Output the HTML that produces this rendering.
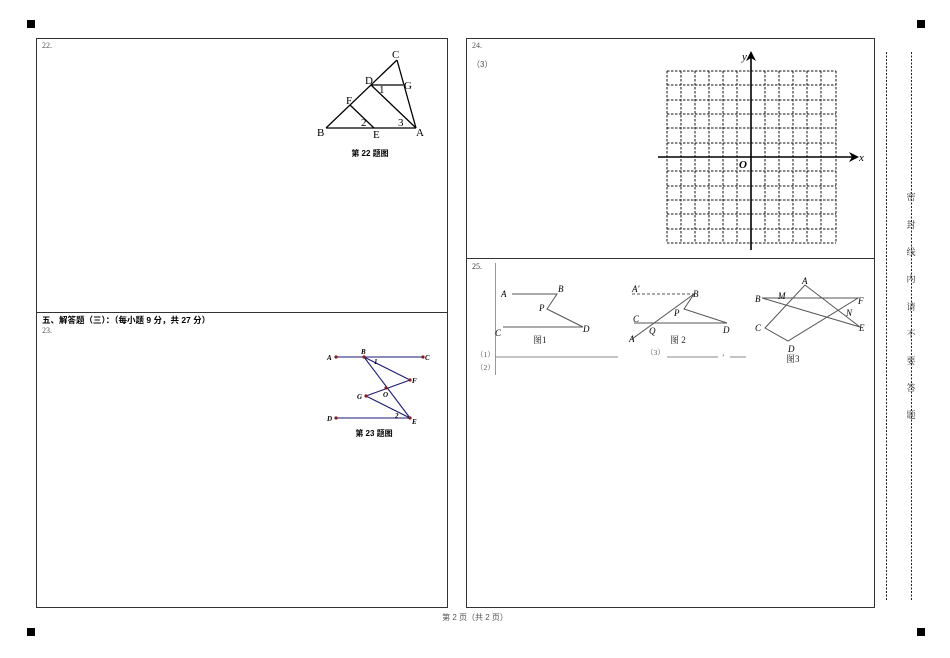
<!DOCTYPE html>
<html><head><meta charset="utf-8"><style>
html,body{margin:0;padding:0;background:#fff}
svg{display:block}
text{font-family:"Liberation Serif","Noto Serif CJK SC",serif}
.cj{font-family:"Liberation Sans","Noto Sans CJK SC",sans-serif}
</style></head><body>
<svg width="950" height="658" viewBox="0 0 950 658" xmlns="http://www.w3.org/2000/svg">
<rect x="27" y="20" width="8" height="8"/><rect x="917" y="20" width="8" height="8"/>
<rect x="27" y="628" width="8" height="8"/><rect x="917" y="628" width="8" height="8"/>
<g fill="none" stroke="#333" stroke-width="1">
<rect x="36.5" y="38.5" width="411" height="569"/>
<line x1="36" y1="312.5" x2="447" y2="312.5"/>
<rect x="466.5" y="38.5" width="408" height="569"/>
<line x1="466" y1="258.5" x2="874" y2="258.5"/>
</g>
<g stroke="#222" stroke-width="1" stroke-dasharray="2,1.5">
<line x1="886.5" y1="52" x2="886.5" y2="600"/><line x1="911.5" y1="52" x2="911.5" y2="600"/>
</g>
<g class="cj" font-size="9" fill="#333" text-anchor="middle">
<text x="911" y="200">密</text><text x="911" y="228">封</text><text x="911" y="255">线</text>
<text x="911" y="282">内</text><text x="911" y="310">请</text><text x="911" y="337">不</text>
<text x="911" y="364">要</text><text x="911" y="391">答</text><text x="911" y="418">题</text>
</g>
<text x="42" y="48" font-size="8" fill="#555">22.</text>
<text x="472" y="48" font-size="8" fill="#555">24.</text>
<text x="472" y="67" font-size="8" fill="#555" class="cj">（3）</text>
<text x="472" y="269" font-size="8" fill="#333">25.</text>
<text x="42" y="323" font-size="8.5" font-weight="bold" class="cj">五、解答题（三）：（每小题 9 分，共 27 分）</text>
<text x="42" y="333" font-size="8" fill="#555">23.</text>
<text x="475" y="620" font-size="8" fill="#555" text-anchor="middle" class="cj">第 2 页（共 2 页）</text>
<!-- fig 22 -->
<g stroke="#000" stroke-width="1.3" fill="none">
<line x1="326" y1="128" x2="416" y2="128"/><line x1="326" y1="128" x2="397" y2="60"/>
<line x1="397" y1="60" x2="416" y2="128"/><line x1="371" y1="85" x2="403" y2="85"/>
<line x1="371" y1="85" x2="416" y2="128"/><line x1="350" y1="105" x2="374" y2="128"/>
</g>
<g font-size="11" font-family="Liberation Serif">
<text x="392" y="58">C</text><text x="365" y="84">D</text><text x="404" y="89">G</text>
<text x="379" y="93">1</text><text x="346" y="104">F</text><text x="317" y="136">B</text>
<text x="373" y="138">E</text><text x="416" y="136">A</text><text x="361" y="126">2</text><text x="398" y="126">3</text>
</g>
<text x="370" y="156" font-size="8" font-weight="bold" text-anchor="middle" class="cj">第 22 题图</text>
<!-- fig 23 -->
<g stroke="#1a1a7a" stroke-width="1.1" fill="none">
<line x1="336" y1="357" x2="423" y2="357"/><line x1="364" y1="357" x2="410" y2="380"/>
<line x1="364" y1="357" x2="410" y2="418"/><line x1="366" y1="396" x2="410" y2="380"/>
<line x1="366" y1="396" x2="410" y2="418"/><line x1="336" y1="418" x2="410" y2="418"/>
</g>
<g fill="#8b1a1a"><circle cx="336" cy="357" r="1.6"/><circle cx="423" cy="357" r="1.6"/><circle cx="364" cy="357" r="1.6"/><circle cx="410" cy="380" r="1.6"/><circle cx="366" cy="396" r="1.6"/><circle cx="386" cy="388" r="1.6"/><circle cx="336" cy="418" r="1.6"/><circle cx="410" cy="418" r="1.6"/></g>
<g font-size="7" font-style="italic" font-weight="bold">
<text x="327" y="360">A</text><text x="425" y="360">C</text><text x="361" y="354">B</text><text x="412" y="383">F</text>
<text x="357" y="399">G</text><text x="383" y="397">O</text><text x="327" y="421">D</text><text x="412" y="424">E</text>
<text x="374" y="364">1</text><text x="395" y="418">2</text>
</g>
<text x="374" y="436" font-size="8" font-weight="bold" text-anchor="middle" class="cj">第 23 题图</text>
<!-- grid 24 -->
<g stroke="#111" stroke-width="1" stroke-dasharray="2.5,1.5" fill="none">
<path d="M667 71V243M681 71V243M695 71V243M709 71V243M723 71V243M737 71V243M765 71V243M779 71V243M793 71V243M807 71V243M821 71V243M836 71V243"/>
<path d="M667 71H836M667 85H836M667 100H836M667 114H836M667 128H836M667 143H836M667 171H836M667 186H836M667 200H836M667 214H836M667 229H836M667 243H836"/>
</g>
<g stroke="#000" stroke-width="1.6"><line x1="658" y1="157" x2="855" y2="157"/><line x1="751" y1="250" x2="751" y2="55"/></g>
<path d="M859 157L849 152L852 157L849 162Z"/><path d="M751 51L746 61L751 58L756 61Z"/>
<text x="859" y="161" font-size="11" font-style="italic">x</text>
<text x="742" y="60" font-size="11" font-style="italic">y</text>
<text x="739" y="168" font-size="11" font-style="italic" font-weight="bold">O</text>
<!-- fig 25 -->
<line x1="495.5" y1="263" x2="495.5" y2="375" stroke="#999"/>
<g stroke="#555" stroke-width="1" fill="none">
<path d="M512 294H557L547 309L583 327H503"/>
<path d="M632 294H694" stroke-dasharray="3,2"/>
<path d="M632 339L694 294L684 309L727 323H634"/>
<path d="M765 328L805 285L860 327L762 298H858L788 341Z"/>
</g>
<g font-size="9" font-style="italic">
<text x="501" y="297">A</text><text x="558" y="292">B</text><text x="539" y="311">P</text><text x="495" y="336">C</text><text x="583" y="332">D</text>
<text x="632" y="292">A'</text><text x="693" y="297">B</text><text x="674" y="316">P</text><text x="633" y="322">C</text><text x="723" y="333">D</text><text x="629" y="342">A</text><text x="649" y="334">Q</text>
<text x="802" y="284">A</text><text x="755" y="302">B</text><text x="778" y="299">M</text><text x="858" y="304">F</text><text x="846" y="316">N</text><text x="859" y="331">E</text><text x="755" y="331">C</text><text x="788" y="352">D</text>
</g>
<g font-size="9" class="cj" fill="#222"><text x="533" y="343">图1</text><text x="670" y="343">图 2</text><text x="786" y="362">图3</text></g>
<g font-size="7.5" fill="#555" class="cj"><text x="476" y="357">（1）</text><text x="476" y="370">（2）</text><text x="646" y="355">（3）</text><text x="722" y="355">，</text></g>
<g stroke="#888"><line x1="495" y1="357" x2="618" y2="357"/><line x1="667" y1="357" x2="718" y2="357"/><line x1="730" y1="357" x2="746" y2="357"/></g>
</svg>
</body></html>
